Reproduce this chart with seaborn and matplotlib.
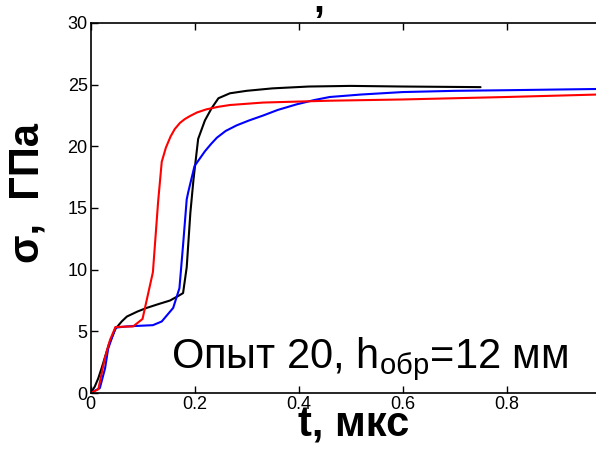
import matplotlib
matplotlib.use("Agg")
import matplotlib.pyplot as plt
import seaborn as sns
import pandas as pd

# data (t in microseconds, sigma in GPa)
black_t = [0, 0.008, 0.015, 0.022, 0.035, 0.048, 0.06, 0.07, 0.09, 0.108, 0.13, 0.153, 0.17,
           0.178, 0.185, 0.192, 0.198, 0.207, 0.22, 0.233, 0.246, 0.268, 0.3, 0.35, 0.42, 0.5, 0.6, 0.75]
black_s = [0, 0.5, 1.2, 2.1, 3.9, 5.2, 5.8, 6.2, 6.6, 6.9, 7.2, 7.5, 7.9,
           8.1, 10.2, 14.6, 17.3, 20.6, 22.1, 23.1, 23.9, 24.3, 24.5, 24.7, 24.85, 24.9, 24.85, 24.8]

blue_t = [0, 0.018, 0.028, 0.034, 0.048, 0.07, 0.12, 0.137, 0.159, 0.171, 0.178, 0.185, 0.188,
          0.2, 0.21, 0.22, 0.232, 0.243, 0.26, 0.281, 0.305, 0.332, 0.36, 0.396, 0.43, 0.46,
          0.52, 0.6, 0.7, 0.8, 0.975]
blue_s = [0, 0.4, 2.0, 3.6, 5.3, 5.4, 5.5, 5.8, 6.9, 8.5, 12.0, 15.7, 16.3,
          18.4, 19.0, 19.6, 20.2, 20.7, 21.25, 21.7, 22.1, 22.5, 22.95, 23.4, 23.75, 24.0,
          24.2, 24.4, 24.5, 24.55, 24.65]

red_t = [0, 0.015, 0.028, 0.0375, 0.048, 0.082, 0.1, 0.12, 0.13, 0.137, 0.145, 0.154, 0.162,
         0.172, 0.181, 0.191, 0.205, 0.223, 0.245, 0.268, 0.3, 0.332, 0.46, 0.6, 0.8, 0.975]
red_s = [0, 0.3, 2.9, 4.3, 5.35, 5.4, 6.0, 9.8, 15.5, 18.75, 19.9, 20.8, 21.4,
         21.9, 22.2, 22.45, 22.75, 23.0, 23.2, 23.35, 23.45, 23.55, 23.7, 23.8, 24.0, 24.2]

x_ticks = [0, 0.2, 0.4, 0.6, 0.8]
x_tick_labels = ["0", "0.2", "0.4", "0.6", "0.8"]
y_ticks = [0, 5, 10, 15, 20, 25, 30]

sns.set_style("ticks")
plt.rcParams["font.family"] = ["Liberation Sans", "DejaVu Sans"]
plt.rcParams["mathtext.fontset"] = "custom"
plt.rcParams["mathtext.rm"] = "Liberation Sans"
plt.rcParams["mathtext.it"] = "Liberation Sans"
plt.rcParams["text.color"] = "black"
plt.rcParams["axes.labelcolor"] = "black"

fig = plt.figure(figsize=(5.96, 4.51), dpi=100)
ax = fig.add_axes([90.5 / 596, 1 - 393 / 451, 1 - 90.5 / 596, (393 - 23) / 451])

for t, s, c in [(black_t, black_s, "black"), (blue_t, blue_s, "blue"), (red_t, red_s, "red")]:
    df = pd.DataFrame({"t": t, "s": s})
    sns.lineplot(data=df, x="t", y="s", color=c, lw=1.5, estimator=None, sort=False, ax=ax)

ax.set_xlim(0, 0.972)
ax.set_ylim(0, 30)
ax.set_xticks(x_ticks)
ax.set_xticklabels(x_tick_labels)
ax.set_yticks(y_ticks)
ax.tick_params(direction="in", length=5, width=1, labelsize=13, pad=2, top=True, colors="black")
for side in ["left", "bottom", "top"]:
    ax.spines[side].set_color("black")
    ax.spines[side].set_linewidth(1.2)
ax.spines["right"].set_visible(False)

ax.set_xlabel("t, мкс", fontsize=30, fontweight="bold", color="black")
ax.xaxis.set_label_coords(0.521, -0.035)
ax.set_ylabel("σ,  ГПа", fontsize=30, fontweight="bold", color="black")
ax.yaxis.set_label_coords(-0.085, 0.54)

ax.text(0.155, 2.03, "Опыт 20, h$_{\\mathrm{обр}}$=12 мм", fontsize=30, ha="left", va="baseline",
        color="black")

fig.text(313 / 596, 1 - 12 / 451, ",", fontsize=28, fontweight="bold", ha="left", va="baseline",
         color="black")

fig.savefig("out.png", dpi=100)
